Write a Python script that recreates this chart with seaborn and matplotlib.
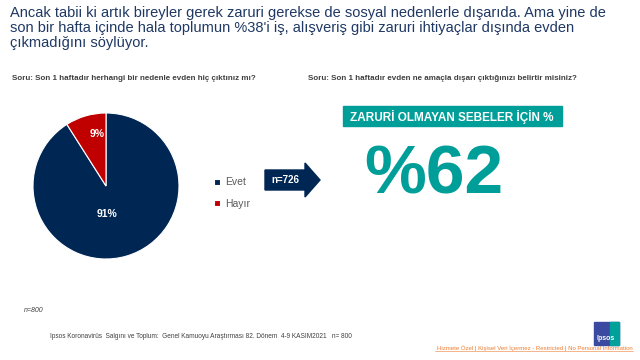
import matplotlib
matplotlib.use("Agg")
import matplotlib.pyplot as plt
import matplotlib.patches as mpatches
import seaborn as sns

# data
categories = ["Evet", "Hayır"]
shares = [91, 9]
n_total = 800
n_sub = 726
headline_value = 62

title_text = ("Ancak tabii ki artık bireyler gerek zaruri gerekse de sosyal nedenlerle dışarıda. Ama yine de\n"
              "son bir hafta içinde hala toplumun %38'i iş, alışveriş gibi zaruri ihtiyaçlar dışında evden\n"
              "çıkmadığını söylüyor.")
q1 = "Soru: Son 1 haftadır herhangi bir nedenle evden hiç çıktınız mı?"
q2 = "Soru: Son 1 haftadır evden ne amaçla dışarı çıktığınızı belirtir misiniz?"
box_text = "ZARURİ OLMAYAN SEBELER İÇİN %"
footer = "Ipsos Koronavirüs  Salgını ve Toplum:  Genel Kamuoyu Araştırması 82. Dönem  4-9 KASIM2021   n= 800"
restricted = "Hizmete Özel | Kişisel Veri İçermez - Restricted | No Personal Information"

sns.set_theme(style="white")
plt.rcParams['font.family'] = ['Liberation Sans', 'DejaVu Sans']

navy = "#002654"
red = "#c00000"
teal = "#009e98"
palette = sns.color_palette([navy, red])

fig = plt.figure(figsize=(6.4, 3.6), dpi=100)
fig.patch.set_facecolor("white")

# overlay for text and shapes, pixel coordinates
bg = fig.add_axes([0, 0, 1, 1])
bg.set_xlim(0, 640)
bg.set_ylim(360, 0)
bg.axis("off")

bg.text(10, 6, title_text, fontsize=10.5, color="#1f3864", va="top", ha="left",
        family=['Liberation Sans Narrow', 'Liberation Sans'], linespacing=1.08)
bg.text(12, 79, q1, fontsize=5.75, color="#404040", weight="bold", va="center")
bg.text(308, 79, q2, fontsize=5.75, color="#404040", weight="bold", va="center")

# pie
ax = fig.add_axes([33 / 640, 101 / 360, 146 / 640, 146 / 360])
wedges, texts = ax.pie(shares, colors=palette, startangle=90, counterclock=False,
                       wedgeprops=dict(edgecolor="white", linewidth=0.8))
ax.set_xlim(-1.0, 1.0)
ax.set_ylim(-1.0, 1.0)
ax.set_aspect("equal")
label_pos = [(0.02, -0.38), (-0.12, 0.71)]
for v, (x, y) in zip(shares, label_pos):
    ax.text(x, y, f"{v}%", color="white", fontsize=7.5, weight="bold", ha="center", va="center")

leg = ax.legend(wedges, categories, loc="center left", bbox_to_anchor=(205 / 640, 1 - 193 / 360),
                bbox_transform=fig.transFigure, frameon=False, fontsize=7.5,
                handlelength=0.5, handleheight=0.5, handletextpad=0.5, labelspacing=1.1)
for t in leg.get_texts():
    t.set_color("#595959")

# arrow with n
arrow = mpatches.Polygon([(265, 170), (305, 170), (305, 163), (320, 180), (305, 197),
                          (305, 190), (265, 190)], closed=True, color=navy)
bg.add_patch(arrow)
bg.text(285, 180, f"n={n_sub}", color="white", fontsize=7, weight="bold", ha="center", va="center")

# teal box and headline
bg.add_patch(mpatches.Rectangle((343, 106), 219, 20, color=teal))
bg.text(452, 116.5, box_text, color="white", fontsize=8.5, weight="bold", ha="center", va="center")
bg.text(434, 175, f"%{headline_value}", color=teal, fontsize=50, weight="bold", ha="center",
        va="center")

bg.text(24, 310, f"n={n_total}", fontsize=5, style="italic", color="#404040", va="center")
bg.text(50, 336, footer, fontsize=4.7, color="#404040", va="center")
bg.text(633, 348, restricted, fontsize=4.3, color="#ed7d31", ha="right", va="center")
bg.plot([435, 633], [351, 351], color="#ed7d31", lw=0.4)

# logo
bg.add_patch(mpatches.Rectangle((594, 322), 25, 23, color="#3a4aa0"))
bg.add_patch(mpatches.Rectangle((610, 322), 9, 23, color="#00a19a"))
bg.text(606, 339, "Ipsos", color="white", fontsize=5, weight="bold", ha="center", va="center")

fig.savefig("out.png", dpi=100, facecolor="white")
